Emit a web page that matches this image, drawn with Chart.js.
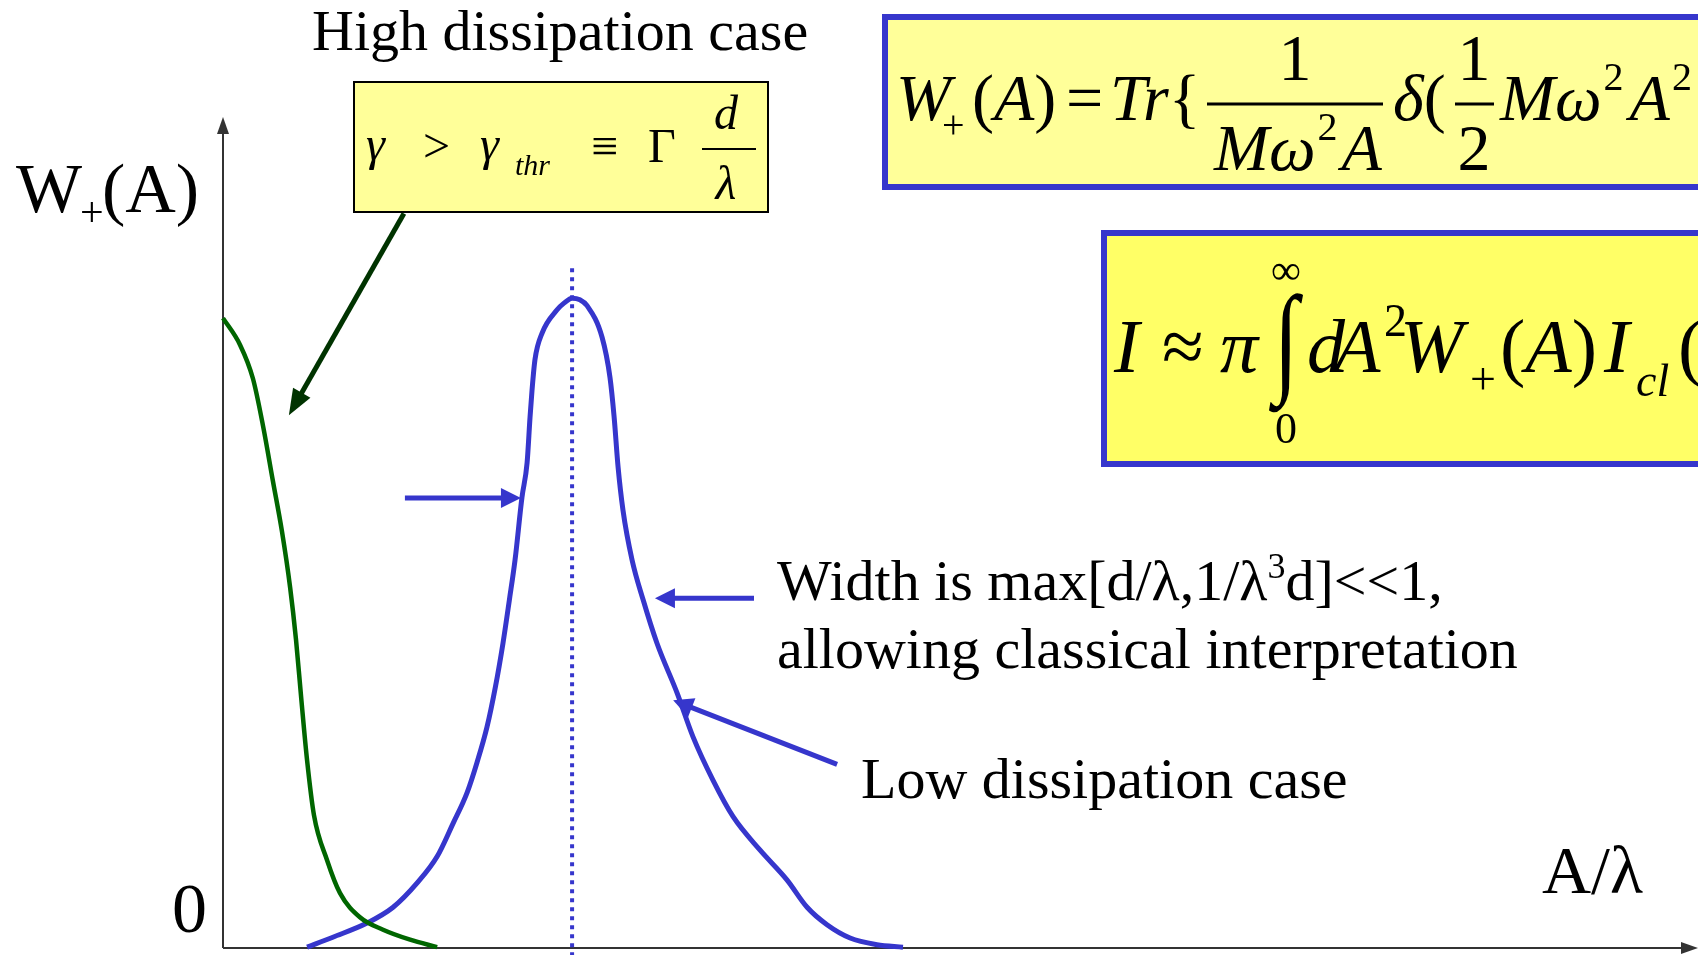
<!DOCTYPE html>
<html>
<head>
<meta charset="utf-8">
<script src="https://cdn.jsdelivr.net/npm/chart.js@4.4.1/dist/chart.umd.min.js"></script>
<style>
  html, body { margin: 0; padding: 0; background: #fff; overflow: hidden; }
</style>
</head>
<body>
<canvas id="chart" width="1698" height="955"></canvas>
<script>
// W+(A) against A/lambda (axis units: x 0..6, y 0..1)
const highX = [0.000, 0.069, 0.122, 0.163, 0.203, 0.240, 0.273, 0.297, 0.319, 0.342, 0.370, 0.423, 0.476, 0.557, 0.651, 0.761, 0.871];
const highY = [0.758, 0.726, 0.685, 0.628, 0.562, 0.501, 0.434, 0.371, 0.298, 0.226, 0.160, 0.106, 0.066, 0.037, 0.022, 0.010, 0.001];

const lowX = [0.342, 0.447, 0.586, 0.692, 0.789, 0.871, 0.936, 0.993, 1.033, 1.074, 1.108, 1.139, 1.165, 1.188, 1.216, 1.237,
  1.249, 1.257, 1.269, 1.298, 1.359, 1.387, 1.420, 1.452, 1.481, 1.542, 1.574, 1.591, 1.607, 1.627, 1.664, 1.709,
  1.765, 1.847, 1.912, 1.993, 2.075, 2.184, 2.294, 2.376, 2.457, 2.551, 2.660, 2.766];
const lowY = [0.001, 0.013, 0.030, 0.049, 0.078, 0.110, 0.150, 0.187, 0.223, 0.266, 0.314, 0.367, 0.419, 0.467, 0.542, 0.584,
  0.639, 0.671, 0.708, 0.740, 0.768, 0.776, 0.782, 0.780, 0.773, 0.735, 0.687, 0.639, 0.579, 0.527, 0.467, 0.419,
  0.367, 0.307, 0.254, 0.202, 0.158, 0.118, 0.082, 0.049, 0.028, 0.012, 0.004, 0.001];

// dotted marker through the peak
const peakX = 1.42;
const peakLineY = [-0.01, 0.822];

// pointer arrows: [fromX, fromY, toX, toY]
const highPointer = [0.736, 0.884, 0.268, 0.641];
const lowPointers = [
  [0.740, 0.5415, 1.212, 0.5415],
  [2.160, 0.421, 1.757, 0.421],
  [2.498, 0.221, 1.831, 0.298],
];

const BLUE = "#3636cc";
const GREEN = "#006600";
const DARK_GREEN = "#003300";
const SERIF = "'Liberation Serif', 'Times New Roman', serif";

const toPoints = (xs, ys) => xs.map((x, i) => ({ x, y: ys[i] }));

function txt(ctx, s, x, y, size, italic, align) {
  ctx.font = (italic ? "italic " : "") + size + "px " + SERIF;
  ctx.textAlign = align || "left";
  ctx.textBaseline = "alphabetic";
  ctx.fillText(s, x, y);
  return ctx.measureText(s).width;
}

// pieces drawn one after the other: [text, size, italic, dy]
function run(ctx, x, y, parts) {
  parts.forEach(([s, size, italic, dy]) => {
    x += txt(ctx, s, x, y + (dy || 0), size, italic);
  });
  return x;
}

function arrow(ctx, x1, y1, x2, y2, color, lw, len, half) {
  const a = Math.atan2(y2 - y1, x2 - x1);
  const c = Math.cos(a), s = Math.sin(a);
  ctx.strokeStyle = color;
  ctx.fillStyle = color;
  ctx.lineWidth = lw;
  ctx.lineCap = "butt";
  ctx.beginPath();
  ctx.moveTo(x1, y1);
  ctx.lineTo(x2 - c * len * 0.8, y2 - s * len * 0.8);
  ctx.stroke();
  ctx.beginPath();
  ctx.moveTo(x2, y2);
  ctx.lineTo(x2 - c * len + s * half, y2 - s * len - c * half);
  ctx.lineTo(x2 - c * len - s * half, y2 - s * len + c * half);
  ctx.closePath();
  ctx.fill();
}

function fracBar(ctx, x1, x2, y, lw) {
  ctx.strokeStyle = "#000";
  ctx.lineWidth = lw;
  ctx.beginPath();
  ctx.moveTo(x1, y);
  ctx.lineTo(x2, y);
  ctx.stroke();
}

const slideDecor = {
  id: "slideDecor",
  beforeDatasetsDraw(chart) {
    const { ctx, chartArea: a } = chart;
    ctx.save();
    ctx.strokeStyle = "#333";
    ctx.fillStyle = "#333";
    ctx.lineWidth = 2;
    ctx.beginPath();
    ctx.moveTo(a.left, a.bottom);
    ctx.lineTo(a.left, a.top + 14);
    ctx.moveTo(a.left, a.bottom);
    ctx.lineTo(a.right - 14, a.bottom);
    ctx.stroke();
    ctx.beginPath();
    ctx.moveTo(a.left, a.top);
    ctx.lineTo(a.left - 6, a.top + 17);
    ctx.lineTo(a.left + 6, a.top + 17);
    ctx.closePath();
    ctx.fill();
    ctx.beginPath();
    ctx.moveTo(a.right, a.bottom);
    ctx.lineTo(a.right - 17, a.bottom - 6);
    ctx.lineTo(a.right - 17, a.bottom + 6);
    ctx.closePath();
    ctx.fill();
    ctx.restore();
  },
  afterDatasetsDraw(chart) {
    const { ctx } = chart;
    const sx = chart.scales.x, sy = chart.scales.y;
    const px = v => sx.getPixelForValue(v), py = v => sy.getPixelForValue(v);
    ctx.save();

    // pointers
    const [hx1, hy1, hx2, hy2] = highPointer;
    arrow(ctx, px(hx1), py(hy1), px(hx2), py(hy2), DARK_GREEN, 5, 26, 10);
    lowPointers.forEach(([x1, y1, x2, y2]) => arrow(ctx, px(x1), py(y1), px(x2), py(y2), BLUE, 5, 20, 10));

    ctx.fillStyle = "#000";
    // axis labels
    txt(ctx, "W", 16, 212, 70, false);
    txt(ctx, "+", 80, 226, 42, false);
    txt(ctx, "(A)", 102, 212, 70, false);
    txt(ctx, "0", 172, 932, 70, false);
    txt(ctx, "A/\u03bb", 1542, 893, 68, false);

    // captions
    txt(ctx, "High dissipation case", 312, 50, 58, false);
    let x = run(ctx, 777, 600, [["Width is max[d/\u03bb,1/\u03bb", 58, false]]);
    x = run(ctx, x, 600, [["3", 36, false, -22]]);
    run(ctx, x, 600, [["d]<<1,", 58, false]]);
    txt(ctx, "allowing classical interpretation", 777, 668, 58, false);
    txt(ctx, "Low dissipation case", 861, 798, 58, false);

    // threshold box
    ctx.fillStyle = "#ffff99";
    ctx.fillRect(354, 82, 414, 130);
    ctx.strokeStyle = "#000";
    ctx.lineWidth = 2;
    ctx.strokeRect(354, 82, 414, 130);
    ctx.fillStyle = "#000";
    txt(ctx, "\u03b3", 366, 160, 48, true);
    txt(ctx, ">", 423, 162, 48, false);
    txt(ctx, "\u03b3", 480, 160, 48, true);
    txt(ctx, "thr", 515, 175, 30, true);
    txt(ctx, "\u2261", 591, 162, 48, false);
    txt(ctx, "\u0393", 648, 162, 48, false);
    fracBar(ctx, 702, 756, 149, 2);
    txt(ctx, "d", 726, 129, 48, true, "center");
    txt(ctx, "\u03bb", 726, 199, 48, true, "center");

    // W+(A) definition box
    ctx.fillStyle = "#ffff99";
    ctx.fillRect(885, 17, 830, 170);
    ctx.strokeStyle = BLUE;
    ctx.lineWidth = 6;
    ctx.strokeRect(885, 17, 830, 170);
    ctx.fillStyle = "#000";
    txt(ctx, "W", 896, 120, 66, true);
    txt(ctx, "+", 942, 138, 40, false);
    run(ctx, 972, 120, [["(", 66, false], ["A", 66, true], [")", 66, false]]);
    txt(ctx, "=", 1066, 120, 66, false);
    run(ctx, 1110, 120, [["Tr", 66, true], ["{", 66, false]]);
    fracBar(ctx, 1207, 1383, 104, 3);
    txt(ctx, "1", 1295, 80, 66, false, "center");
    x = run(ctx, 1214, 170, [["M\u03c9", 66, true]]);
    x = run(ctx, x + 2, 170, [["2", 40, false, -30]]);
    run(ctx, x + 4, 170, [["A", 66, true]]);
    run(ctx, 1393, 120, [["\u03b4", 66, true], ["(", 66, false]]);
    fracBar(ctx, 1455, 1494, 104, 3);
    txt(ctx, "1", 1474, 80, 66, false, "center");
    txt(ctx, "2", 1474, 170, 66, false, "center");
    x = run(ctx, 1500, 120, [["M\u03c9", 66, true]]);
    x = run(ctx, x + 2, 120, [["2", 40, false, -30]]);
    x = run(ctx, x + 6, 120, [["A", 66, true]]);
    run(ctx, x + 2, 120, [["2", 40, false, -30]]);

    // intensity box
    ctx.fillStyle = "#ffff66";
    ctx.fillRect(1104, 233, 620, 231);
    ctx.strokeStyle = BLUE;
    ctx.lineWidth = 6;
    ctx.strokeRect(1104, 233, 620, 231);
    ctx.fillStyle = "#000";
    txt(ctx, "I", 1114, 372, 76, true);
    txt(ctx, "\u2248", 1162, 372, 76, false);
    txt(ctx, "\u03c0", 1220, 372, 76, true);
    ctx.save();
    ctx.translate(1286, 380);
    ctx.scale(1, 1.35);
    txt(ctx, "\u222b", 0, 0, 90, false, "center");
    ctx.restore();
    txt(ctx, "\u221e", 1286, 284, 42, false, "center");
    txt(ctx, "0", 1286, 443, 44, false, "center");
    txt(ctx, "d", 1307, 372, 76, true);
    txt(ctx, "A", 1334, 372, 76, true);
    txt(ctx, "2", 1384, 336, 46, false);
    txt(ctx, "W", 1400, 372, 76, true);
    txt(ctx, "+", 1470, 394, 46, false);
    run(ctx, 1500, 372, [["(", 76, false], ["A", 76, true], [")", 76, false]]);
    txt(ctx, "I", 1604, 372, 76, true);
    txt(ctx, "cl", 1636, 396, 46, true);
    txt(ctx, "(", 1678, 372, 76, false);

    ctx.restore();
  },
};

new Chart(document.getElementById("chart"), {
  type: "scatter",
  data: {
    datasets: [
      {
        label: "high dissipation",
        data: toPoints(highX, highY),
        showLine: true,
        borderColor: GREEN,
        borderWidth: 4.5,
        pointRadius: 0,
        cubicInterpolationMode: "monotone",
        clip: false,
      },
      {
        label: "peak",
        data: toPoints([peakX, peakX], peakLineY),
        showLine: true,
        borderColor: BLUE,
        borderWidth: 4,
        borderDash: [4, 5],
        pointRadius: 0,
        clip: false,
      },
      {
        label: "low dissipation",
        data: toPoints(lowX, lowY),
        showLine: true,
        borderColor: BLUE,
        borderWidth: 5,
        pointRadius: 0,
        cubicInterpolationMode: "monotone",
        clip: false,
      },
    ],
  },
  options: {
    responsive: false,
    animation: false,
    devicePixelRatio: 1,
    layout: { padding: { left: 223, right: 0, top: 117, bottom: 7 } },
    plugins: { legend: { display: false }, tooltip: { enabled: false }, title: { display: false } },
    scales: {
      x: { type: "linear", min: 0, max: 6, display: false },
      y: { type: "linear", min: 0, max: 1, display: false },
    },
  },
  plugins: [slideDecor],
});
</script>
</body>
</html>
